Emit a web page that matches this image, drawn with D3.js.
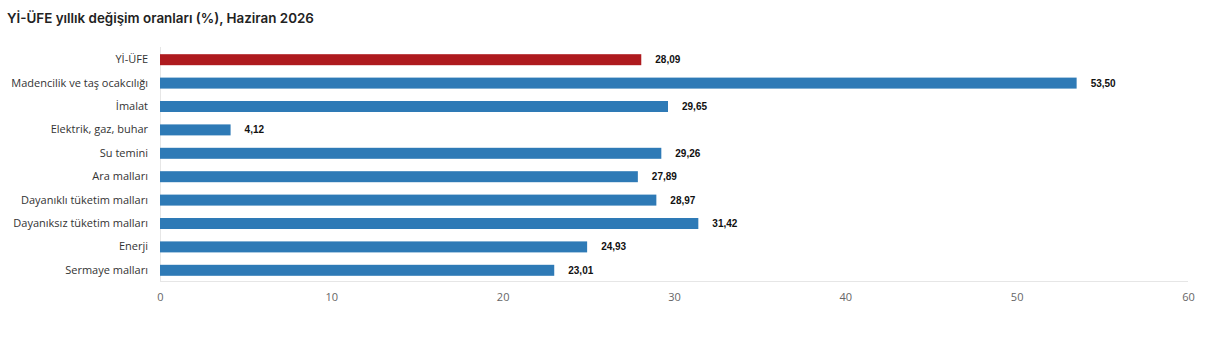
<!DOCTYPE html>
<html><head><meta charset="utf-8">
<script src="https://cdn.jsdelivr.net/npm/d3@7"></script>
<style>body{margin:0;background:#fff;}svg{display:block;}</style>
</head><body>
<svg id="c" width="1219" height="348"></svg>
<script>
const categories = ["Yİ-ÜFE","Madencilik ve taş ocakcılığı","İmalat","Elektrik, gaz, buhar","Su temini","Ara malları","Dayanıklı tüketim malları","Dayanıksız tüketim malları","Enerji","Sermaye malları"];
const values = [28.09,53.50,29.65,4.12,29.26,27.89,28.97,31.42,24.93,23.01];
const highlight = ["Yİ-ÜFE"];
const xTicks = [0,10,20,30,40,50,60];
const title = "Yİ-ÜFE yıllık değişim oranları (%), Haziran 2026";

const svg = d3.select("#c");
const x = d3.scaleLinear().domain([0,60]).range([160,1188]);
const y = d3.scaleBand().domain(categories).range([48,282]).paddingInner(0.53).paddingOuter(0.265);
const fmt = v => v.toFixed(2).replace(".", ",");

svg.append("text").attr("x",7).attr("y",23).text(title)
  .attr("font-family","Inter, 'Open Sans', sans-serif").attr("font-weight",600).attr("font-size",13.4).attr("fill","#222");

// axes lines
svg.append("line").attr("x1",x(0)+0.5).attr("x2",x(0)+0.5).attr("y1",47).attr("y2",282).attr("stroke","#e6e6e6");
svg.append("line").attr("x1",x(0)).attr("x2",x(60)).attr("y1",281.5).attr("y2",281.5).attr("stroke","#e6e6e6");

const xa = svg.append("g").attr("transform","translate(0,282)")
  .call(d3.axisBottom(x).tickValues(xTicks).tickSize(0).tickPadding(11).tickFormat(d3.format("d")));
xa.select(".domain").remove();
xa.selectAll("text").attr("font-family","'Open Sans', sans-serif").attr("font-size",11).attr("fill","#666");

const ya = svg.append("g").attr("transform",`translate(${x(0)-12},0)`)
  .call(d3.axisLeft(y).tickSize(0).tickPadding(0));
ya.select(".domain").remove();
ya.selectAll("text").attr("font-family","'Open Sans', sans-serif").attr("font-size",11).attr("fill","#333");

svg.append("g").selectAll("rect").data(categories).join("rect")
  .attr("x",x(0)).attr("y",d=>y(d)).attr("height",y.bandwidth())
  .attr("width",(d,i)=>x(values[i])-x(0))
  .attr("fill",d=>highlight.includes(d)?"#AE1A1E":"#2E7AB6");

svg.append("g").selectAll("text").data(categories).join("text")
  .attr("x",(d,i)=>x(values[i])+14).attr("y",d=>y(d)+y.bandwidth()/2).attr("dy","0.35em")
  .text((d,i)=>fmt(values[i]))
  .attr("font-family","'Liberation Sans', Arial, sans-serif").attr("font-weight","bold").attr("font-size",10).attr("fill","#111");
</script>
</body></html>
